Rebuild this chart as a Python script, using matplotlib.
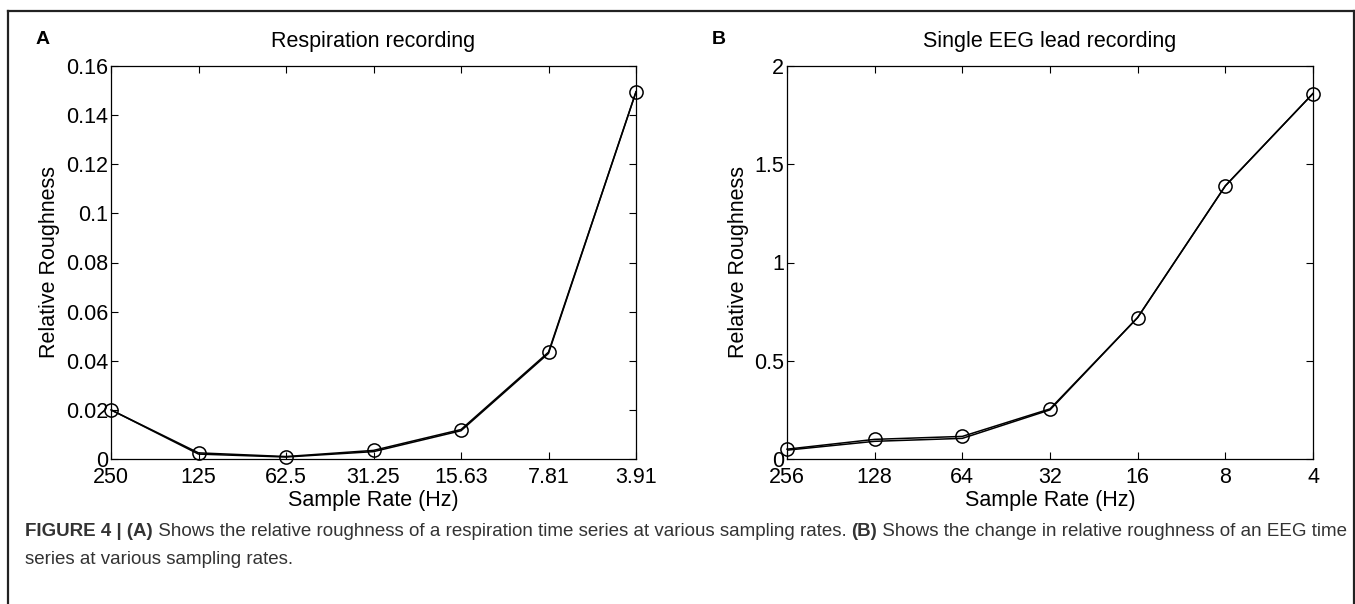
import matplotlib
matplotlib.use("Agg")
import matplotlib.pyplot as plt
from matplotlib.lines import Line2D

plt.rcParams['font.family'] = ['Liberation Sans', 'DejaVu Sans']

# Panel A: respiration recording
resp_rates = ['250', '125', '62.5', '31.25', '15.63', '7.81', '3.91']
resp_rough = [0.020, 0.0025, 0.0010, 0.0035, 0.0120, 0.0435, 0.1495]
resp_rough2 = [0.020, 0.0020, 0.0008, 0.0030, 0.0115, 0.0430, 0.1495]
resp_yticks = [0, 0.02, 0.04, 0.06, 0.08, 0.1, 0.12, 0.14, 0.16]
resp_ylabels = ['0', '0.02', '0.04', '0.06', '0.08', '0.1', '0.12', '0.14', '0.16']

# Panel B: single EEG lead recording
eeg_rates = ['256', '128', '64', '32', '16', '8', '4']
eeg_rough = [0.050, 0.100, 0.115, 0.255, 0.720, 1.390, 1.860]
eeg_rough2 = [0.045, 0.090, 0.105, 0.250, 0.720, 1.390, 1.860]
eeg_yticks = [0, 0.5, 1, 1.5, 2]
eeg_ylabels = ['0', '0.5', '1', '1.5', '2']

fig = plt.figure(figsize=(13.55, 6.04), dpi=100, facecolor='white')
W, H = 1355.0, 604.0


def px_axes(x0, y0, x1, y1):
    return fig.add_axes([x0 / W, 1 - y1 / H, (x1 - x0) / W, (y1 - y0) / H])


def style(ax, labels, yticks, ylabels, ymax, title, letter, lx):
    ax.set_xlim(0, len(labels) - 1)
    ax.set_ylim(0, ymax)
    ax.set_xticks(range(len(labels)))
    ax.set_xticklabels(labels)
    ax.set_yticks(yticks)
    ax.set_yticklabels(ylabels)
    ax.tick_params(direction='in', length=5, width=0.8, top=True, right=True,
                   labelsize=15.5, pad=2)
    ax.tick_params(axis='x', pad=6)
    for s in ax.spines.values():
        s.set_linewidth(0.9)
    ax.set_title(title, fontsize=15.5, pad=14)
    ax.set_xlabel('Sample Rate (Hz)', fontsize=15.5, labelpad=1)
    ax.set_ylabel('Relative Roughness', fontsize=15.5, labelpad=4)
    fig.text(lx / W, 1 - 40 / H, letter, fontsize=14, fontweight='bold',
             ha='left', va='center')


axA = px_axes(111, 66, 636, 459)
x = range(len(resp_rates))
axA.plot(x, resp_rough2, color='black', lw=1.1)
axA.plot(x, resp_rough, color='black', lw=1.1, marker='o', ms=9.5,
         mfc='none', mec='black', mew=1.1, clip_on=False)
style(axA, resp_rates, resp_yticks, resp_ylabels, 0.16,
      'Respiration recording', 'A', 36)

axB = px_axes(787, 66, 1313, 459)
x = range(len(eeg_rates))
axB.plot(x, eeg_rough2, color='black', lw=1.1)
axB.plot(x, eeg_rough, color='black', lw=1.1, marker='o', ms=9.5,
         mfc='none', mec='black', mew=1.1, clip_on=False)
style(axB, eeg_rates, eeg_yticks, eeg_ylabels, 2,
      'Single EEG lead recording', 'B', 712)

# outer frame of the figure panel
for xs, ys in [([8, 8], [11, 610]), ([8, 1354], [11, 11]), ([1354, 1354], [11, 610])]:
    fig.add_artist(Line2D([v / W for v in xs], [1 - v / H for v in ys],
                          color='#222222', lw=1.6, transform=fig.transFigure))

# caption with mixed bold runs
cap_font = ['Liberation Sans', 'DejaVu Sans']
line1 = [("FIGURE 4 | (A)", 'bold'),
         (" Shows the relative roughness of a respiration time series at various sampling rates. ", 'normal'),
         ("(B)", 'bold'),
         (" Shows the change in relative roughness of an EEG time", 'normal')]
line2 = [("series at various sampling rates.", 'normal')]

fig.canvas.draw()
renderer = fig.canvas.get_renderer()
for runs, ypx in [(line1, 532), (line2, 560)]:
    xpx = 25.0
    for txt, wt in runs:
        t = fig.text(xpx / W, 1 - ypx / H, txt, fontsize=13.5, fontweight=wt,
                     family=cap_font, color='#333333', ha='left', va='center')
        bb = t.get_window_extent(renderer=renderer)
        xpx += bb.width

fig.savefig('out.png', dpi=100, facecolor='white')
